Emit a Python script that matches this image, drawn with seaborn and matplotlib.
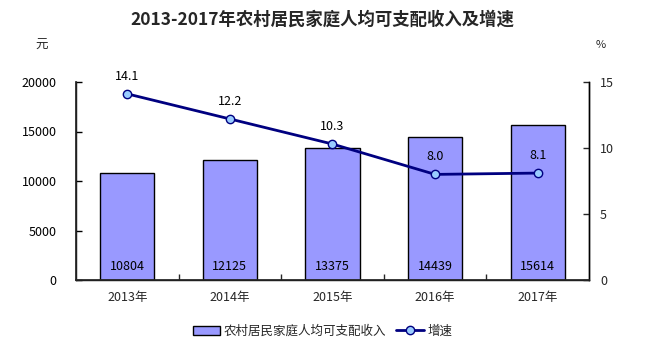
import matplotlib
matplotlib.use("Agg")
import matplotlib.pyplot as plt
import seaborn as sns
import pandas as pd
import numpy as np
from matplotlib.patches import Patch
from matplotlib.lines import Line2D

years = ["2013年", "2014年", "2015年", "2016年", "2017年"]
income = [10804, 12125, 13375, 14439, 15614]
growth = [14.1, 12.2, 10.3, 8.0, 8.1]

sns.set_theme(style="white")
plt.rcParams['font.family'] = ['Noto Sans CJK SC', 'DejaVu Sans']

df = pd.DataFrame({"year": years, "income": income, "growth": growth, "pos": range(len(years))})

fig = plt.figure(figsize=(6.45, 3.51), dpi=100)
ax = fig.add_axes([76/645, 1-280/351, (589-76)/645, (280-82)/351])

sns.barplot(data=df, x="year", y="income", color="#9999ff", saturation=1,
            edgecolor="black", linewidth=1.0, width=0.53, ax=ax)
ax.set_xlim(-0.5, len(years)-0.5)
ax.set_ylim(0, 20000)
ax.set_yticks([0, 5000, 10000, 15000, 20000])
ax.set_xlabel("")
ax.set_ylabel("")
ax.tick_params(axis="y", direction="in", length=4, width=1, labelsize=9, colors="black", left=True, pad=14)
ax.tick_params(axis="x", length=0, labelsize=9, pad=8)
ax.set_xticks(np.arange(0.5, len(years)-1, 1), minor=True)
ax.tick_params(axis="x", which="minor", direction="in", length=4, width=1, bottom=True)
for s in ["left", "bottom", "right"]:
    ax.spines[s].set_visible(True)
    ax.spines[s].set_color("black")
    ax.spines[s].set_linewidth(1.0)
ax.spines["top"].set_visible(False)

for i, v in enumerate(income):
    ax.annotate(str(v), xy=(i, 0), xytext=(0, 5), textcoords="offset points",
                ha="center", va="bottom", fontsize=9, color="black")

ax2 = ax.twinx()
sns.lineplot(data=df, x="pos", y="growth", color="#000080", linewidth=2,
             marker="o", markersize=6, markerfacecolor="#99ccff",
             markeredgecolor="#000080", markeredgewidth=1, sort=False, ax=ax2)
ax2.set_ylim(0, 15)
ax2.set_yticks([0, 5, 10, 15])
ax2.set_xlim(-0.5, len(years)-0.5)
ax2.set_ylabel("")
ax2.set_xlabel("")
ax2.tick_params(axis="y", direction="in", length=4, width=1, labelsize=9, right=True, pad=8)
ax2.spines["top"].set_visible(False)
ax2.spines["right"].set_color("black")
ax2.spines["right"].set_linewidth(1.0)
for i, g in enumerate(growth):
    ax2.annotate(f"{g:.1f}", xy=(i, g), xytext=(0, 8), textcoords="offset points",
                 ha="center", va="bottom", fontsize=9, color="black")

fig.text(0.5, 1-20/351, "2013-2017年农村居民家庭人均可支配收入及增速", ha="center", va="center",
         fontsize=12.5, fontweight="bold")
fig.text(42/645, 1-45/351, "元", ha="center", va="center", fontsize=9)
fig.text(601/645, 1-45/351, "%", ha="center", va="center", fontsize=8)

handles = [Patch(facecolor="#9999ff", edgecolor="black", linewidth=1.0, label="农村居民家庭人均可支配收入"),
           Line2D([0], [0], color="#000080", linewidth=2, marker="o", markersize=6,
                  markerfacecolor="#99ccff", markeredgecolor="#000080", label="增速")]
fig.legend(handles=handles, loc="center", bbox_to_anchor=(0.5, 1-331/351), ncol=2, frameon=False,
           fontsize=9, handlelength=2.2, handletextpad=0.3, columnspacing=0.8)

fig.savefig("out.png", dpi=100)
